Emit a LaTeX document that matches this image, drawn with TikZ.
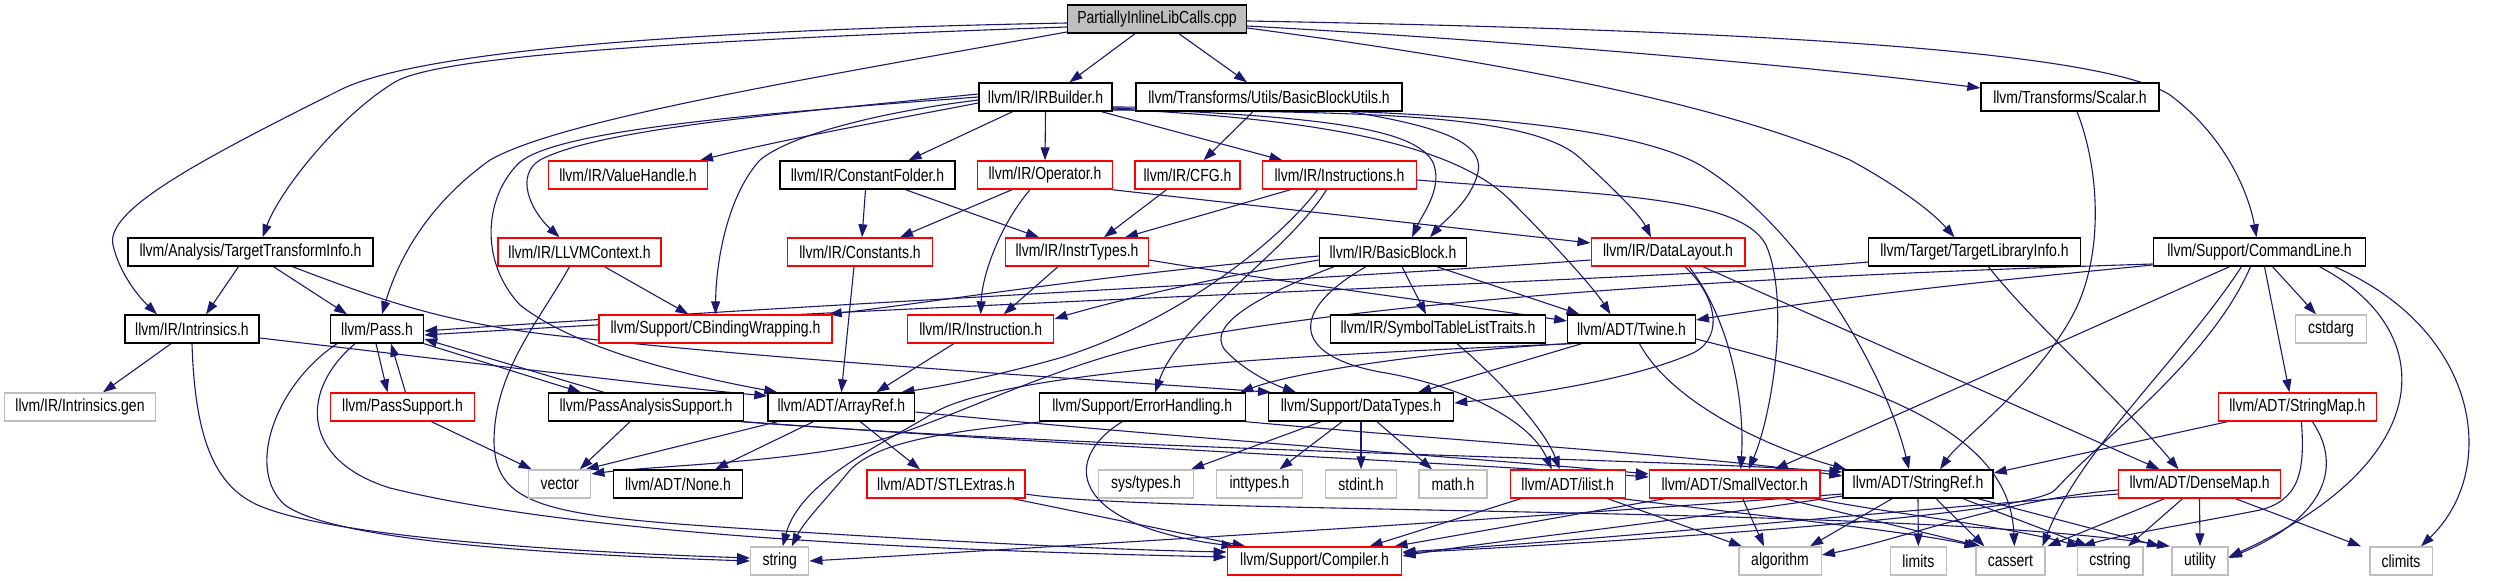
\documentclass[tikz,border=0pt]{standalone}
\usepackage{fontspec}
\newfontfamily\dfont{Liberation Sans}[FakeStretch=0.8]
\usetikzlibrary{arrows.meta,backgrounds}
\definecolor{edgec}{HTML}{191970}
\definecolor{grayb}{HTML}{BFBFBF}
\definecolor{topfill}{HTML}{BFBFBF}
\tikzset{
 box/.style={draw=black, line width=1.4pt, minimum height=28pt, inner sep=0pt, fill=white, text=black, font=\dfont\fontsize{17.5pt}{20pt}\selectfont},
 rbox/.style={box, draw=red},
 gbox/.style={box, draw=grayb},
 dep/.style={draw=edgec, line width=1.1pt, -{Triangle[length=13pt,width=9pt]}},
}
\begin{document}
\begin{tikzpicture}[x=1pt,y=-1pt]
\useasboundingbox (0,0) rectangle (2510,581);
% row 0
\node[box, fill=topfill, minimum width=179pt] (P) at (1157,19) {PartiallyInlineLibCalls.cpp};
% row 1
\node[box, minimum width=133pt] (irb) at (1045.5,97) {llvm/IR/IRBuilder.h};
\node[box, minimum width=266pt] (bbu) at (1269,97) {llvm/Transforms/Utils/BasicBlockUtils.h};
\node[box, minimum width=178pt] (scal) at (2070,97) {llvm/Transforms/Scalar.h};
% row 2
\node[rbox, minimum width=159pt] (vh) at (628,175) {llvm/IR/ValueHandle.h};
\node[box, minimum width=175pt] (cf) at (867.5,175) {llvm/IR/ConstantFolder.h};
\node[rbox, minimum width=135pt] (op) at (1045,175) {llvm/IR/Operator.h};
\node[rbox, minimum width=105pt] (cfg) at (1187.5,175) {llvm/IR/CFG.h};
\node[rbox, minimum width=154pt] (insts) at (1339.5,175) {llvm/IR/Instructions.h};
% row 3
\node[box, minimum width=245pt] (tti) at (250.5,252) {llvm/Analysis/TargetTransformInfo.h};
\node[rbox, minimum width=163pt] (ctx) at (579.5,252) {llvm/IR/LLVMContext.h};
\node[rbox, minimum width=144.5pt] (consts) at (860,252) {llvm/IR/Constants.h};
\node[rbox, minimum width=142.5pt] (itypes) at (1077,252) {llvm/IR/InstrTypes.h};
\node[box, minimum width=147pt] (bb) at (1393,252) {llvm/IR/BasicBlock.h};
\node[rbox, minimum width=153.6pt] (dl) at (1668,252) {llvm/IR/DataLayout.h};
\node[box, minimum width=212pt] (tli) at (1974.5,252) {llvm/Target/TargetLibraryInfo.h};
\node[box, minimum width=212.5pt] (cl) at (2259.5,252) {llvm/Support/CommandLine.h};
% row 4
\node[box, minimum width=134pt] (intr) at (192,329) {llvm/IR/Intrinsics.h};
\node[box, minimum width=93pt] (pass) at (377,329) {llvm/Pass.h};
\node[rbox, minimum width=233pt] (cbw) at (715.5,329) {llvm/Support/CBindingWrapping.h};
\node[rbox, minimum width=146pt] (inst) at (980.7,329) {llvm/IR/Instruction.h};
\node[box, minimum width=214.6pt] (stlt) at (1438,329) {llvm/IR/SymbolTableListTraits.h};
\node[box, minimum width=127.5pt] (twine) at (1631.5,329) {llvm/ADT/Twine.h};
\node[gbox, minimum width=71pt] (cstdarg) at (2331,329) {cstdarg};
% row 5
\node[gbox, minimum width=151pt] (igen) at (80,407) {llvm/IR/Intrinsics.gen};
\node[rbox, minimum width=143.7pt] (psup) at (402.5,407) {llvm/PassSupport.h};
\node[box, minimum width=195pt] (pas) at (646,407) {llvm/PassAnalysisSupport.h};
\node[box, minimum width=146.6pt] (aref) at (841.3,407) {llvm/ADT/ArrayRef.h};
\node[box, minimum width=206pt] (eh) at (1142.2,407) {llvm/Support/ErrorHandling.h};
\node[box, minimum width=185pt] (dt) at (1361,407) {llvm/Support/DataTypes.h};
\node[rbox, minimum width=158pt] (smap) at (2297.4,407) {llvm/ADT/StringMap.h};
% row 6
\node[gbox, minimum width=62pt] (vec) at (559.7,484) {vector};
\node[box, minimum width=128.5pt] (none) at (678,484) {llvm/ADT/None.h};
\node[rbox, minimum width=157.7pt] (stlx) at (946,484) {llvm/ADT/STLExtras.h};
\node[gbox, minimum width=95pt] (systypes) at (1146,484) {sys/types.h};
\node[gbox, minimum width=86pt] (inttypes) at (1259.5,484) {inttypes.h};
\node[gbox, minimum width=71pt] (stdint) at (1361,484) {stdint.h};
\node[gbox, minimum width=67.7pt] (math) at (1453,484) {math.h};
\node[rbox, minimum width=115pt] (ilist) at (1567.7,484) {llvm/ADT/ilist.h};
\node[rbox, minimum width=170.4pt] (svec) at (1734.7,484) {llvm/ADT/SmallVector.h};
\node[box, minimum width=150pt] (sref) at (1918,484) {llvm/ADT/StringRef.h};
\node[rbox, minimum width=162pt] (dmap) at (2199.5,484) {llvm/ADT/DenseMap.h};
% row 7
\node[gbox, minimum width=58pt] (str) at (779.7,561) {string};
\node[rbox, minimum width=174.5pt] (comp) at (1314.5,561) {llvm/Support/Compiler.h};
\node[gbox, minimum width=82.4pt] (algo) at (1780,561) {algorithm};
\node[gbox, minimum width=56pt] (limits) at (1918.3,561) {limits};
\node[gbox, minimum width=69pt] (cassert) at (2010.4,561) {cassert};
\node[gbox, minimum width=65.6pt] (cstring) at (2110,561) {cstring};
\node[gbox, minimum width=56.3pt] (utility) at (2200,561) {utility};
\node[gbox, minimum width=62.4pt] (climits) at (2401,561) {climits};

\begin{pgfonlayer}{background}
% P
\draw[dep] ([xshift=-22pt]P.south) -- ([xshift=24pt]irb.north);
\draw[dep] ([xshift=22pt]P.south) -- ([xshift=-22pt]bbu.north);
\draw[dep] ([yshift=-7pt]P.east) .. controls (1500,40) and (1800,65) .. ([yshift=9pt]scal.west);
\draw[dep] ([yshift=-9pt]P.east) .. controls (1450,55) and (1700,95) .. (1850,160) .. controls (1905,190) and (1935,215) .. ([xshift=-20pt]tli.north);
\draw[dep] ([yshift=-2pt]P.east) .. controls (1750,30) and (2100,50) .. (2170,95) .. controls (2230,140) and (2250,200) .. ([xshift=-3pt]cl.north);
\draw[dep] ([yshift=-4pt]P.west) .. controls (700,30) and (420,50) .. (340,90) .. controls (200,160) and (105,210) .. (113,245) .. controls (120,275) and (140,298) .. ([xshift=-35pt]intr.north);
\draw[dep] ([yshift=-8pt]P.west) .. controls (700,40) and (440,55) .. (395,82) .. controls (340,115) and (280,190) .. ([xshift=12pt]tti.north);
\draw[dep] ([yshift=-13pt]P.west) .. controls (800,80) and (560,120) .. (490,160) .. controls (420,210) and (395,270) .. ([xshift=5pt]pass.north);
% irb
\draw[dep] ([xshift=-33pt]irb.south) -- ([xshift=41pt]cf.north);
\draw[dep] (irb.south) -- (op.north);
\draw[dep] ([xshift=56pt]irb.south) -- ([xshift=-57pt]insts.north);
\draw[dep] ([yshift=-11pt]irb.east) .. controls (1300,116) and (1420,125) .. (1434,165) .. controls (1442,190) and (1422,215) .. ([xshift=19pt]bb.north);
\draw[dep] ([yshift=-13pt]irb.east) .. controls (1350,112) and (1530,112) .. (1580,158) .. controls (1615,190) and (1640,215) .. ([xshift=-17pt]dl.north);
\draw[dep] ([yshift=-12pt]irb.east) .. controls (1300,118) and (1450,140) .. (1510,200) .. controls (1560,250) and (1595,290) .. ([xshift=-21pt]twine.north);
\draw[dep] ([yshift=-10pt]irb.east) .. controls (1400,108) and (1620,120) .. (1700,165) .. controls (1800,225) and (1885,370) .. ([xshift=-9pt]sref.north);
\draw[dep] ([yshift=-6pt]irb.west) .. controls (900,118) and (780,140) .. ([xshift=72pt]vh.north);
\draw[dep] ([yshift=3pt]irb.west) .. controls (800,112) and (600,128) .. (540,160) .. controls (515,175) and (530,210) .. ([xshift=-20pt]ctx.north);
\draw[dep] ([yshift=0pt]irb.west) .. controls (750,114) and (560,130) .. (520,162) .. controls (485,195) and (478,260) .. (520,305) .. controls (580,352) and (700,378) .. ([xshift=-64pt]aref.north);
\draw[dep] ([yshift=-3pt]irb.west) .. controls (880,112) and (790,135) .. (760,160) .. controls (728,195) and (716,260) .. (cbw.north);
% bbu
\draw[dep] ([xshift=-16pt]bbu.south) -- ([xshift=16pt]cfg.north);
\draw[dep] ([xshift=81pt]bbu.south) .. controls (1430,125) and (1485,140) .. (1478,172) .. controls (1472,200) and (1445,220) .. ([xshift=37pt]bb.north);
% scalar
\draw[dep] ([xshift=7pt]scal.south) .. controls (2100,170) and (2105,260) .. (2070,320) .. controls (2030,390) and (1960,440) .. ([xshift=22pt]sref.north);
% tti
\draw[dep] ([xshift=-12pt]tti.south) -- ([xshift=14pt]intr.north);
\draw[dep] ([xshift=23pt]tti.south) -- ([xshift=-30pt]pass.north);
\draw[dep] ([xshift=42pt]tti.south) .. controls (380,300) and (450,325) .. (570,337) .. controls (800,362) and (1100,380) .. ([xshift=-90pt]dt.north);
% ctx
\draw[dep] ([xshift=25pt]ctx.south) -- ([xshift=-27pt]cbw.north);
\draw[dep] ([xshift=-10pt]ctx.south) .. controls (540,320) and (495,370) .. (494,440) .. controls (494,505) and (545,515) .. (720,527) .. controls (950,542) and (1120,550) .. ([yshift=9pt]comp.west);
% cf, op, cfg
\draw[dep] ([xshift=-2pt]cf.south) -- ([xshift=2pt]consts.north);
\draw[dep] ([xshift=38pt]cf.south) -- ([xshift=-38pt]itypes.north);
\draw[dep] ([xshift=-33pt]op.south) -- ([xshift=40pt]consts.north);
\draw[dep] ([xshift=-15pt]op.south) .. controls (1000,225) and (982,275) .. (inst.north);
\draw[dep] ([xshift=67pt]op.south) -- ([yshift=9pt]dl.west);
\draw[dep] ([xshift=-21pt]cfg.south) -- ([xshift=27pt]itypes.north);
% insts
\draw[dep] ([xshift=-49pt]insts.south) -- ([xshift=48pt]itypes.north);
\draw[dep] ([xshift=-22pt]insts.south) .. controls (1280,240) and (1180,320) .. (1063,357) .. controls (990,378) and (930,388) .. ([xshift=60pt]aref.north);
\draw[dep] ([xshift=-13pt]insts.south) .. controls (1290,250) and (1180,320) .. ([xshift=13pt]eh.north);
\draw[dep] ([yshift=-5pt]insts.east) .. controls (1600,195) and (1750,195) .. (1768,250) .. controls (1790,310) and (1770,420) .. ([xshift=14pt]svec.north);
% itypes, consts
\draw[dep] ([xshift=-19pt]itypes.south) -- ([xshift=23pt]inst.north);
\draw[dep] ([yshift=-8pt]itypes.east) .. controls (1300,285) and (1460,305) .. ([yshift=8pt]twine.west);
\draw[dep] ([xshift=-6pt]consts.south) -- (aref.north);
% bb
\draw[dep] ([yshift=-8pt]bb.west) .. controls (1200,280) and (1100,305) .. ([yshift=10pt]inst.east);
\draw[dep] ([yshift=-4pt]bb.west) .. controls (1100,275) and (950,300) .. ([xshift=-4pt]cbw.north east);
\draw[dep] ([xshift=-59pt]bb.south) .. controls (1260,295) and (1205,325) .. (1225,350) .. controls (1245,372) and (1275,385) .. ([xshift=-65pt]dt.north);
\draw[dep] ([xshift=-27pt]bb.south) .. controls (1290,310) and (1290,355) .. (1380,372) .. controls (1460,385) and (1530,420) .. ([xshift=-16pt]ilist.north);
\draw[dep] ([xshift=9pt]bb.south) -- ([xshift=-12pt]stlt.north);
\draw[dep] ([xshift=44pt]bb.south) -- ([xshift=-52pt]twine.north);
% dl
\draw[dep] ([yshift=-8pt]dl.west) .. controls (1350,278) and (800,305) .. ([yshift=-2pt]pass.east);
\draw[dep] ([xshift=17pt]dl.south) .. controls (1715,295) and (1725,335) .. (1695,352) .. controls (1640,378) and (1530,395) .. ([yshift=4pt]dt.east);
\draw[dep] ([xshift=21pt]dl.south) .. controls (1730,320) and (1745,400) .. ([xshift=6pt]svec.north);
\draw[dep] ([xshift=35pt]dl.south) -- ([xshift=-40pt]dmap.north);
% tli
\draw[dep] ([yshift=-10pt]tli.west) .. controls (1700,278) and (1000,300) .. ([yshift=-6pt]pass.east);
\draw[dep] ([xshift=14pt]tli.south) .. controls (2030,320) and (2120,400) .. ([xshift=-21pt]dmap.north);
% cl
\draw[dep] ([yshift=-13pt]cl.west) .. controls (2000,280) and (1850,295) .. ([yshift=9pt]twine.east);
\draw[dep] ([yshift=-12pt]cl.west) .. controls (1800,275) and (1400,295) .. (1150,345) .. controls (1050,368) and (960,415) .. (880,440) .. controls (800,462) and (650,466) .. ([yshift=10pt]vec.east);
\draw[dep] ([xshift=-30pt]cl.south) -- ([xshift=40pt]svec.north);
\draw[dep] ([xshift=5pt]cl.south) -- ([xshift=-8pt]smap.north);
\draw[dep] ([xshift=13pt]cl.south) -- ([xshift=-15pt]cstdarg.north);
\draw[dep] ([xshift=-9pt]cl.south) .. controls (2210,360) and (2100,440) .. (2055,490) .. controls (2030,515) and (1650,540) .. ([yshift=8pt]comp.east);
\draw[dep] ([xshift=-18pt]cl.south) .. controls (2180,360) and (2080,450) .. ([xshift=32pt]cassert.north);
\draw[dep] ([xshift=60pt]cl.south) .. controls (2440,330) and (2440,460) .. ([yshift=4pt]utility.east);
\draw[dep] ([xshift=75pt]cl.south) .. controls (2480,330) and (2500,470) .. ([xshift=20pt]climits.north);
% smap
\draw[dep] ([xshift=-70pt]smap.south) -- ([yshift=11pt]sref.east);
\draw[dep] ([xshift=15pt]smap.south) .. controls (2345,470) and (2320,520) .. ([yshift=3pt]utility.east);
\draw[dep] ([xshift=4pt]smap.south) .. controls (2305,470) and (2300,500) .. (2260,510) .. controls (2200,522) and (2120,535) .. ([xshift=-28pt]cstring.north);
% sref
\draw[dep] ([xshift=-26pt]sref.south) -- ([xshift=30pt]algo.north);
\draw[dep] (sref.south) -- (limits.north);
\draw[dep] ([xshift=18pt]sref.south) -- ([xshift=-26pt]cassert.north);
\draw[dep] ([xshift=45pt]sref.south) -- ([xshift=-22pt]cstring.north);
\draw[dep] ([xshift=60pt]sref.south) -- ([xshift=-40pt]utility.north);
\draw[dep] ([yshift=-10pt]sref.west) .. controls (1500,520) and (1000,550) .. (str.east);
\draw[dep] ([yshift=-12pt]sref.west) .. controls (1650,525) and (1500,540) .. ([yshift=5pt]comp.east);
% dmap
\draw[dep] ([yshift=-6pt]dmap.west) .. controls (2000,500) and (1900,540) .. ([yshift=6pt]algo.east);
\draw[dep] ([yshift=-10pt]dmap.west) .. controls (1900,510) and (1600,540) .. ([yshift=9pt]comp.east);
\draw[dep] ([xshift=-35pt]dmap.south) -- ([xshift=37pt]cassert.north);
\draw[dep] ([xshift=-17pt]dmap.south) -- ([xshift=18pt]cstring.north);
\draw[dep] (dmap.south) -- (utility.north);
\draw[dep] ([xshift=36pt]dmap.south) -- ([xshift=-40pt]climits.north);
% svec
\draw[dep] ([xshift=-70pt]svec.south) -- ([xshift=80pt]comp.north);
\draw[dep] ([xshift=8pt]svec.south) -- ([xshift=-16pt]algo.north);
\draw[dep] ([xshift=50pt]svec.south) -- ([xshift=-30pt]cassert.north);
\draw[dep] ([xshift=80pt]svec.south) .. controls (1900,515) and (2000,525) .. ([xshift=-30pt]cstring.north);
% ilist
\draw[dep] ([xshift=-47pt]ilist.south) -- ([xshift=55pt]comp.north);
\draw[dep] ([xshift=40pt]ilist.south) -- ([xshift=-38pt]algo.north);
\draw[dep] ([xshift=55pt]ilist.south) .. controls (1750,515) and (1900,530) .. ([xshift=-33pt]cassert.north);
% stlx
\draw[dep] ([xshift=67pt]stlx.south) -- ([xshift=-69pt]comp.north);
\draw[dep] ([yshift=-10pt]stlx.east) .. controls (1150,515) and (1900,505) .. ([xshift=-30pt]utility.north);
% inst
\draw[dep] ([xshift=-27pt]inst.south) -- ([xshift=35pt]aref.north);
% aref
\draw[dep] ([xshift=-64pt]aref.south) -- ([xshift=26pt]vec.north);
\draw[dep] ([xshift=-28pt]aref.south) -- ([xshift=37pt]none.north);
\draw[dep] ([xshift=19pt]aref.south) -- ([xshift=-26pt]stlx.north);
\draw[dep] ([yshift=-5pt]aref.east) .. controls (1200,440) and (1500,460) .. ([yshift=10pt]svec.west);
% pas
\draw[dep] ([xshift=-42pt]pas.north) -- ([yshift=-10pt]pass.east);
\draw[dep] (pass.south east) -- ([xshift=-65pt]pas.north);
\draw[dep] ([xshift=-16pt]pas.south) -- ([xshift=20pt]vec.north);
\draw[dep] (pas.south east) .. controls (1100,448) and (1450,462) .. ([yshift=7pt]svec.west);
\draw[dep] ([xshift=-3pt]pas.south east) .. controls (1150,452) and (1650,458) .. ([yshift=12pt]sref.west);
% psup
\draw[dep] ([xshift=3pt]psup.north) -- ([xshift=14pt]pass.south);
\draw[dep] ([xshift=-1pt]pass.south) -- ([xshift=-15pt]psup.north);
\draw[dep] ([xshift=29pt]psup.south) -- ([xshift=-28pt]vec.north);
% pass
\draw[dep] ([xshift=-40pt]pass.south) .. controls (275,385) and (245,470) .. (285,505) .. controls (340,545) and (600,556) .. (str.west);
\draw[dep] ([xshift=-22pt]pass.south) .. controls (300,390) and (300,460) .. (390,488) .. controls (600,540) and (1000,552) .. ([yshift=4pt]comp.west);
% intr
\draw[dep] ([xshift=-21pt]intr.south) -- ([xshift=23pt]igen.north);
\draw[dep] (intr.south) .. controls (195,440) and (215,490) .. (265,508) .. controls (350,540) and (600,553) .. ([yshift=3pt]str.west);
\draw[dep] ([yshift=-9pt]intr.east) .. controls (450,360) and (650,385) .. ([yshift=11pt]aref.west);
% eh
\draw[dep] ([xshift=-20pt]eh.south) .. controls (1060,460) and (1070,525) .. ([xshift=-80pt]comp.north);
\draw[dep] ([xshift=-100pt]eh.south) .. controls (950,432) and (880,440) .. (850,470) .. controls (830,495) and (805,520) .. ([xshift=12pt]str.north);
\draw[dep] (eh.south east) .. controls (1500,445) and (1700,455) .. ([yshift=8pt]sref.west);
% dt
\draw[dep] ([xshift=-40pt]dt.south) -- ([xshift=45pt]systypes.north);
\draw[dep] ([xshift=-19pt]dt.south) -- ([xshift=20pt]inttypes.north);
\draw[dep] (dt.south) -- (stdint.north);
\draw[dep] ([xshift=16pt]dt.south) -- ([xshift=-21pt]math.north);
% stlt
\draw[dep] ([xshift=19pt]stlt.south) .. controls (1500,380) and (1545,430) .. ([xshift=-8pt]ilist.north);
% twine
\draw[dep] ([xshift=-60pt]twine.south) .. controls (1300,355) and (1000,370) .. (930,415) .. controls (890,440) and (800,480) .. ([xshift=3pt]str.north);
\draw[dep] ([xshift=-50pt]twine.south) -- ([xshift=57pt]dt.north);
\draw[dep] (twine.south west) .. controls (1450,350) and (1300,370) .. ([xshift=98pt]eh.north);
\draw[dep] ([xshift=8pt]twine.south) .. controls (1670,400) and (1760,445) .. ([xshift=-72pt]sref.north);
\draw[dep] ([yshift=-10pt]twine.east) .. controls (1900,390) and (2010,440) .. ([xshift=4pt]cassert.north);
\end{pgfonlayer}
\end{tikzpicture}
\end{document}
